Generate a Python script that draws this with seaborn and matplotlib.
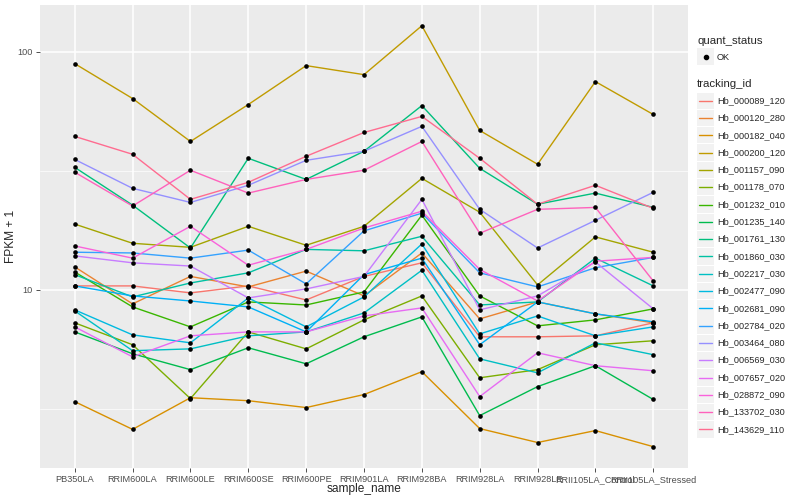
import pandas as pd
import seaborn as sns
import matplotlib.pyplot as plt
from matplotlib.patches import Rectangle
from matplotlib.lines import Line2D

# sample order on the x axis
samples = ['PB350LA', 'RRIM600LA', 'RRIM600LE', 'RRIM600SE', 'RRIM600PE', 'RRIM901LA',
           'RRIM928BA', 'RRIM928LA', 'RRIM928LE', 'RRII105LA_Control', 'RRII105LA_Stressed']

tracking_ids = ['Hb_000089_120', 'Hb_000120_280', 'Hb_000182_040', 'Hb_000200_120',
                'Hb_001157_090', 'Hb_001178_070', 'Hb_001232_010', 'Hb_001235_140',
                'Hb_001761_130', 'Hb_001860_030', 'Hb_002217_030', 'Hb_002477_090',
                'Hb_002681_090', 'Hb_002784_020', 'Hb_003464_080', 'Hb_006569_030',
                'Hb_007657_020', 'Hb_028872_090', 'Hb_133702_030', 'Hb_143629_110']

# FPKM + 1 per gene, one value per sample
hb_000089_120 = [10.4, 10.4, 9.72, 10.4, 9.08, 11.4, 13.0, 6.36, 6.36, 6.42, 7.28]
hb_000120_280 = [12.5, 8.74, 11.4, 10.3, 12.0, 9.44, 14.3, 7.56, 8.91, 7.94, 7.28]
hb_000182_040 = [3.40, 2.60, 3.53, 3.43, 3.21, 3.64, 4.54, 2.62, 2.29, 2.57, 2.20]
hb_000200_120 = [89.1, 63.6, 42.0, 60.0, 87.4, 80.1, 128.5, 46.7, 33.7, 74.9, 54.5]
hb_001157_090 = [18.9, 15.7, 15.1, 18.5, 15.4, 18.5, 29.4, 21.2, 10.5, 16.7, 14.4]
hb_001178_070 = [7.28, 5.89, 3.50, 6.67, 5.66, 7.49, 9.44, 4.28, 4.63, 5.89, 6.12]
hb_001232_010 = [11.9, 8.49, 7.00, 8.91, 8.65, 9.81, 20.6, 9.44, 7.07, 7.49, 8.33]
hb_001235_140 = [6.67, 5.40, 4.63, 5.72, 4.90, 6.36, 7.71, 2.97, 3.93, 4.81, 3.47]
hb_001761_130 = [32.7, 22.7, 15.0, 35.7, 29.1, 38.2, 59.4, 32.4, 22.9, 25.5, 22.2]
hb_001860_030 = [11.6, 9.35, 10.7, 11.8, 14.8, 14.6, 16.8, 8.65, 8.91, 13.6, 10.4]
hb_002217_030 = [8.17, 5.56, 5.66, 6.42, 6.67, 8.01, 12.1, 5.14, 4.49, 6.00, 5.35]
hb_002477_090 = [8.25, 6.48, 6.00, 9.26, 7.00, 9.35, 15.6, 6.54, 7.78, 6.42, 7.00]
hb_002681_090 = [10.4, 9.44, 8.99, 8.49, 6.67, 11.6, 13.6, 5.89, 8.91, 7.94, 7.35]
hb_002784_020 = [14.4, 14.3, 13.6, 14.7, 10.6, 17.7, 21.0, 11.8, 10.3, 12.4, 13.7]
hb_003464_080 = [35.3, 26.7, 23.3, 27.5, 35.0, 38.2, 48.6, 21.8, 15.0, 19.6, 25.7]
hb_006569_030 = [13.9, 13.0, 12.6, 9.26, 10.1, 11.4, 24.0, 8.25, 9.44, 13.1, 8.33]
hb_007657_020 = [7.00, 5.24, 6.42, 6.67, 6.67, 7.78, 8.41, 3.57, 5.45, 4.81, 4.58]
hb_028872_090 = [15.3, 13.6, 18.5, 12.7, 14.8, 18.2, 21.4, 12.2, 8.99, 13.2, 13.7]
hb_133702_030 = [31.2, 22.5, 31.8, 25.5, 29.1, 31.8, 42.0, 17.3, 21.8, 22.2, 10.9]
hb_143629_110 = [44.1, 37.1, 24.0, 28.3, 36.4, 45.8, 53.5, 35.7, 22.9, 27.5, 22.0]

all_values = [hb_000089_120, hb_000120_280, hb_000182_040, hb_000200_120, hb_001157_090,
              hb_001178_070, hb_001232_010, hb_001235_140, hb_001761_130, hb_001860_030,
              hb_002217_030, hb_002477_090, hb_002681_090, hb_002784_020, hb_003464_080,
              hb_006569_030, hb_007657_020, hb_028872_090, hb_133702_030, hb_143629_110]

# ggplot2 default hue palette for 20 levels
colors = ['#F8766D', '#EA8331', '#D89000', '#C09B00', '#A3A500', '#7CAE00', '#39B600',
          '#00BB4E', '#00BF7D', '#00C1A3', '#00BFC4', '#00BAE0', '#00B0F6', '#35A2FF',
          '#9590FF', '#C77CFF', '#E76BF3', '#FA62DB', '#FF62BC', '#FF6C90']

rows = []
for tid, vals in zip(tracking_ids, all_values):
    for s, v in zip(samples, vals):
        rows.append({'sample_name': s, 'tracking_id': tid, 'fpkm1': v, 'quant_status': 'OK'})
df = pd.DataFrame(rows)

sns.set_style('darkgrid', {'axes.facecolor': '#EBEBEB', 'grid.color': 'white'})
plt.rcParams['font.family'] = ['Liberation Sans', 'DejaVu Sans']

fig = plt.figure(figsize=(8, 5), dpi=100)
ax = fig.add_axes([0.05, 0.064, 0.81, 0.926])

sns.lineplot(data=df, x='sample_name', y='fpkm1', hue='tracking_id', hue_order=tracking_ids,
             palette=colors, sort=False, linewidth=1.0, legend=False, ax=ax)
sns.scatterplot(data=df, x='sample_name', y='fpkm1', color='black', s=11, linewidth=0,
                legend=False, ax=ax, zorder=5)

ax.set_yscale('log')
ax.set_ylim(1.79, 157)
ax.set_xlim(-0.6, len(samples) - 0.4)
ax.set_yticks([10, 100])
ax.set_yticklabels(['10', '100'])
ax.set_yticks([10 ** 0.5, 10 ** 1.5], minor=True)
ax.yaxis.set_minor_formatter(plt.NullFormatter())
ax.grid(which='major', color='white', linewidth=1.1)
ax.grid(which='minor', axis='y', color='white', linewidth=0.5)
ax.tick_params(axis='x', which='minor', bottom=False)
for sp in ax.spines.values():
    sp.set_visible(False)
ax.tick_params(which='major', length=3, width=0.6, color='#333333', labelsize=6.6,
               labelcolor='#4D4D4D', pad=2, bottom=True, left=True)
ax.tick_params(axis='y', which='minor', length=0)

ax.set_xlabel('sample_name', fontsize=8.6)
ax.set_ylabel('FPKM + 1', fontsize=8.6)
ax.xaxis.set_label_coords(0.5, -0.033)
ax.yaxis.set_label_coords(-0.035, 0.5)


# legends drawn in figure pixels
def fx(px):
    return px / 800


def fy(py):
    return 1 - py / 500


fig.text(fx(697), fy(41), 'quant_status', fontsize=8.2, va='center', ha='left')
fig.patches.append(Rectangle((fx(697), fy(65)), 17 / 800, 17 / 500, transform=fig.transFigure,
                             facecolor='#F2F2F2', edgecolor='none'))
fig.lines.append(Line2D([fx(705.5)], [fy(56.5)], transform=fig.transFigure, marker='o',
                        markersize=3, color='black', linestyle='none'))
fig.text(fx(717), fy(57), 'OK', fontsize=6.6, va='center', ha='left')

fig.text(fx(697), fy(84), 'tracking_id', fontsize=8.2, va='center', ha='left')
for i, (tid, c) in enumerate(zip(tracking_ids, colors)):
    yc = 100.7 + 17.3 * i
    fig.patches.append(Rectangle((fx(697), fy(yc + 8.2)), 17 / 800, 16.4 / 500,
                                 transform=fig.transFigure, facecolor='#F2F2F2', edgecolor='none'))
    fig.lines.append(Line2D([fx(699), fx(712)], [fy(yc), fy(yc)], transform=fig.transFigure,
                            color=c, linewidth=1.0))
    fig.text(fx(717), fy(yc), tid, fontsize=6.6, va='center', ha='left')

fig.savefig('out.png', dpi=100)
